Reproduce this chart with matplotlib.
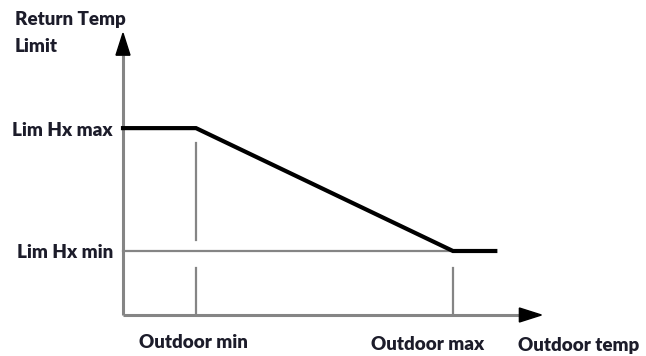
import matplotlib.pyplot as plt
from matplotlib.patches import Polygon

# Piecewise return-temperature limit vs outdoor temperature (schematic units)
curve_x = [0.0, 1.0, 4.52, 5.1]
curve_y = [2.92, 2.92, 1.0, 1.0]
lim_labels = ["Lim Hx max", "Lim Hx min"]
lim_values = [2.92, 1.0]
outdoor_labels = ["Outdoor min", "Outdoor max"]
outdoor_values = [1.0, 4.52]
x_axis_label = "Outdoor temp"
y_axis_label = "Return Temp\nLimit"

W, H = 646, 356
x0_px, y0_px = 123, 315      # origin location
ux, uy = 73.0, 64.0          # pixels per unit

fig = plt.figure(figsize=(W / 100, H / 100), dpi=100)
ax = fig.add_axes([0, 0, 1, 1])
ax.set_xlim(-x0_px / ux, (W - x0_px) / ux)
ax.set_ylim(-(H - y0_px) / uy, y0_px / uy)
ax.axis("off")

gray = "#858585"
txt = "#1c1c2a"
font = dict(family=["Lato", "DejaVu Sans"], fontweight="heavy", fontsize=13.5, color=txt)

x_end = 5.43
y_end = 4.06
# axes
ax.plot([0, 0], [0, y_end], color=gray, lw=2.2, solid_capstyle="butt", zorder=2)
ax.plot([0, x_end], [0, 0], color=gray, lw=2.2, solid_capstyle="butt", zorder=2)
ax.add_patch(Polygon([[x_end, 7 / uy], [x_end, -7 / uy], [x_end + 22 / ux, 0]],
                     closed=True, color="black", zorder=3))
ax.add_patch(Polygon([[-7 / ux, y_end], [7 / ux, y_end], [0, y_end + 22 / uy]],
                     closed=True, color="black", zorder=3))

# Lim Hx min reference line
ax.plot([0, outdoor_values[1]], [lim_values[1], lim_values[1]], color=gray, lw=1.6, zorder=2)

# vertical markers at outdoor min / max
xm, xM = outdoor_values
ax.plot([xm, xm], [lim_values[0] - 15 / uy, lim_values[1] + 11 / uy], color=gray, lw=1.6, zorder=2)
ax.plot([xm, xm], [0, lim_values[1] - 17 / uy], color=gray, lw=1.6, zorder=2)
ax.plot([xM, xM], [0, lim_values[1] - 17 / uy], color=gray, lw=1.6, zorder=2)

# limit curve
ax.plot(curve_x, curve_y, color="black", lw=3, solid_joinstyle="miter", zorder=4)

# labels
for lab, v in zip(lim_labels, lim_values):
    ax.text(-10 / ux, v - 2 / uy, lab, ha="right", va="center", **font)
ax.text(-108 / ux, y0_px / uy - 20 / uy, "Return Temp", ha="left", va="center", **font)
ax.text(-108 / ux, y0_px / uy - 47 / uy, "Limit", ha="left", va="center", **font)
ax.text(xm - 3 / ux, -27 / uy, outdoor_labels[0], ha="center", va="center", **font)
ax.text(xM - 25 / ux, -30 / uy, outdoor_labels[1], ha="center", va="center", **font)
ax.text(x_end + 59 / ux, -30 / uy, x_axis_label, ha="center", va="center", **font)

fig.savefig("out.png", dpi=100, facecolor="white")
